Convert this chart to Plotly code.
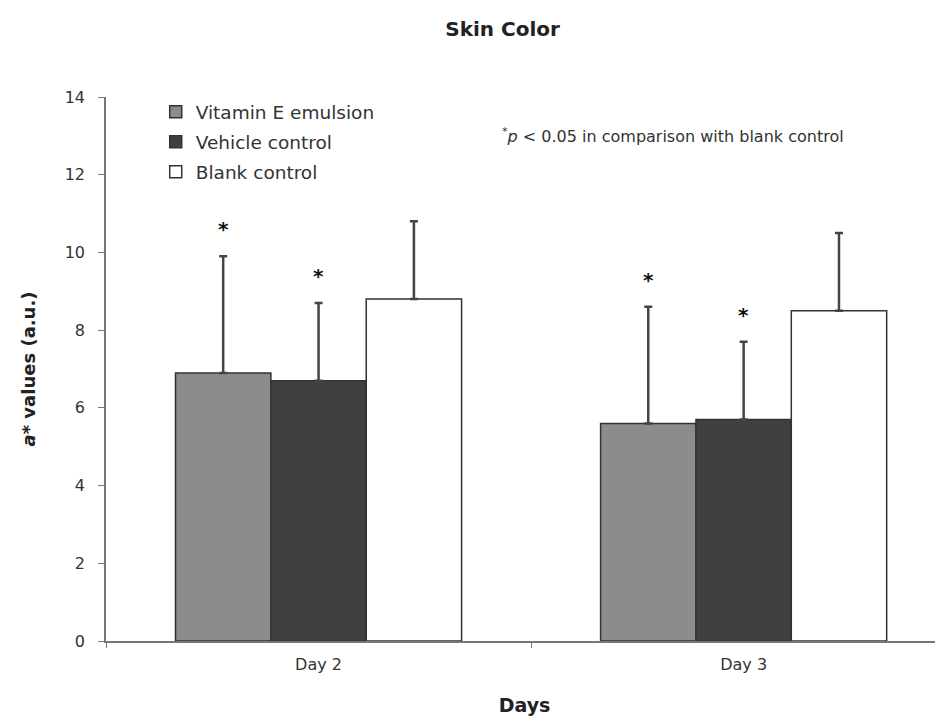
import plotly.graph_objects as go

days = ["Day 2", "Day 3"]
groups = ["Vitamin E emulsion", "Vehicle control", "Blank control"]
means = {
    "Vitamin E emulsion": [6.9, 5.6],
    "Vehicle control": [6.7, 5.7],
    "Blank control": [8.8, 8.5],
}
sds = {
    "Vitamin E emulsion": [3.0, 3.0],
    "Vehicle control": [2.0, 2.0],
    "Blank control": [2.0, 2.0],
}
# groups marked * (p < 0.05 vs blank control)
significant = ["Vitamin E emulsion", "Vehicle control"]

colors = {"Vitamin E emulsion": "#8c8c8c", "Vehicle control": "#404040", "Blank control": "#ffffff"}
edge = "#333333"
FONT = "DejaVu Sans"

fig = go.Figure()
for g in groups:
    fig.add_trace(go.Bar(
        x=days, y=means[g], name=g, legendgroup=g,
        marker=dict(color=colors[g], line=dict(color=edge, width=1.5)),
        error_y=dict(type="data", symmetric=False, array=sds[g], arrayminus=[0] * len(days),
                     color="#444444", thickness=2.5, width=4),
    ))

bargap = 0.327
bar_w = (1 - bargap) / len(groups)

# asterisks above error bars
for gi, g in enumerate(groups):
    if g not in significant:
        continue
    for di, d in enumerate(days):
        fig.add_annotation(
            x=di + (gi - 1) * bar_w, y=means[g][di] + sds[g][di],
            text="<b>*</b>", showarrow=False, yanchor="middle", yshift=27,
            font=dict(size=20, color="#111111", family=FONT),
        )

fig.add_annotation(
    xref="paper", yref="paper", x=0.471, y=0.93, xanchor="left", yanchor="middle",
    text="<sup>*</sup><i>p</i> < 0.05 in comparison with blank control",
    showarrow=False, font=dict(size=16, color="#333333", family=FONT),
)

# page body adds ~8px margin, so the figure is sized to fit the window
fig.update_layout(
    width=935, height=708,
    margin=dict(l=98, r=0, t=89, b=75),
    paper_bgcolor="white", plot_bgcolor="white",
    barmode="group", bargap=bargap, bargroupgap=0,
    title=dict(text="<b>Skin Color</b>", x=0.529, xanchor="center", y=0.970, yanchor="middle",
               font=dict(size=20, color="#222222", family=FONT)),
    font=dict(family=FONT, color="#333333"),
    legend=dict(x=0.0594, y=1.007, xanchor="left", yanchor="top", tracegroupgap=3,
                font=dict(size=18.5, color="#333333"), bgcolor="rgba(0,0,0,0)"),
    xaxis=dict(range=[-0.5, 1.469], showline=True, linecolor="#777777", linewidth=1.5,
               ticks="outside", tickson="boundaries", ticklen=5, tickcolor="#777777",
               tickfont=dict(size=16, color="#333333"), ticklabelstandoff=8, automargin=False,
               title=dict(text="<b>Days</b>", font=dict(size=19, color="#222222"), standoff=27)),
    yaxis=dict(range=[0, 14], dtick=2, showline=True, linecolor="#777777", linewidth=1.5,
               ticks="outside", ticklen=6, tickcolor="#777777", showgrid=False, zeroline=False,
               tickfont=dict(size=16, color="#333333"), ticklabelstandoff=10, automargin=False,
               title=dict(text="<b><i>a</i>* values (a.u.)</b>", font=dict(size=18, color="#222222"),
                          standoff=24)),
)

fig.write_html("out.html")
